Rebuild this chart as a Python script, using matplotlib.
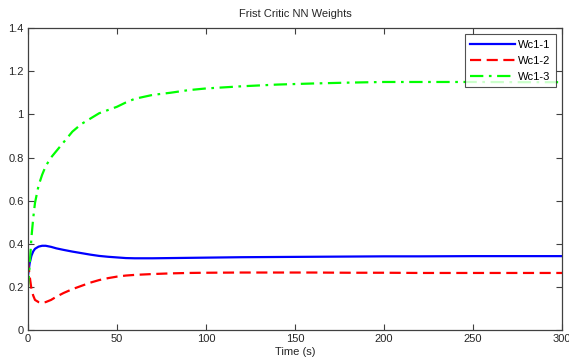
import matplotlib
matplotlib.use("Agg")
import matplotlib.pyplot as plt

t = [0, 1, 2, 3, 4, 6, 8, 10, 13, 16, 20, 25, 30, 35, 40, 45, 50, 55, 60, 70, 80, 90,
     100, 120, 140, 160, 180, 200, 220, 250, 280, 300]
wc1_1 = [0.25, 0.31, 0.345, 0.365, 0.377, 0.387, 0.391, 0.391, 0.386, 0.379, 0.372, 0.364,
         0.357, 0.350, 0.344, 0.340, 0.337, 0.334, 0.333, 0.333, 0.334, 0.335, 0.336, 0.338,
         0.339, 0.340, 0.341, 0.342, 0.342, 0.343, 0.343, 0.343]
wc1_2 = [0.32, 0.25, 0.19, 0.16, 0.14, 0.13, 0.127, 0.13, 0.14, 0.155, 0.172, 0.19, 0.205,
         0.22, 0.232, 0.241, 0.248, 0.253, 0.256, 0.260, 0.263, 0.265, 0.266, 0.267, 0.267,
         0.267, 0.266, 0.266, 0.265, 0.265, 0.265, 0.265]
wc1_3 = [0.19, 0.30, 0.43, 0.52, 0.59, 0.67, 0.72, 0.76, 0.80, 0.83, 0.87, 0.92, 0.955, 0.98,
         1.005, 1.02, 1.035, 1.055, 1.072, 1.09, 1.10, 1.112, 1.12, 1.13, 1.138, 1.143, 1.147,
         1.150, 1.150, 1.150, 1.149, 1.149]
labels = ["Wc1-1", "Wc1-2", "Wc1-3"]
xticks = [0, 50, 100, 150, 200, 250, 300]
yticks = [0, 0.2, 0.4, 0.6, 0.8, 1.0, 1.2, 1.4]
ytick_labels = ["0", "0.2", "0.4", "0.6", "0.8", "1", "1.2", "1.4"]

plt.rcParams['font.family'] = ['Liberation Sans', 'DejaVu Sans']
fig = plt.figure(figsize=(5.69, 3.64), dpi=100)
ax = fig.add_axes([0.049, 0.093, 0.939, 0.830])

ax.plot(t, wc1_1, color='#0000ff', lw=1.6, ls='-', label=labels[0])
ax.plot(t, wc1_2, color='#ff0000', lw=1.6, ls=(0, (5, 2.5)), label=labels[1])
ax.plot(t, wc1_3, color='#00ff00', lw=1.6, ls=(0, (6, 2.5, 1.2, 2.5)), label=labels[2])

ax.set_xlim(0, 300)
ax.set_ylim(0, 1.4)
ax.set_xticks(xticks)
ax.set_xticklabels([str(v) for v in xticks])
ax.set_yticks(yticks)
ax.set_yticklabels(ytick_labels)
ax.tick_params(direction='in', top=True, right=True, length=4, width=0.8,
               labelsize=8, colors='#404040', labelcolor='#262626', pad=3)
for s in ax.spines.values():
    s.set_color('#404040')
    s.set_linewidth(0.9)

ax.set_title("Frist Critic NN Weights", fontsize=8, color='#262626', pad=8)
ax.set_xlabel("Time (s)", fontsize=8, color='#262626', labelpad=2)

leg = ax.legend(loc='upper right', fontsize=8, frameon=True, fancybox=False,
                edgecolor='#262626', borderaxespad=0.55, handlelength=4.0,
                labelspacing=0.55, borderpad=0.5, handletextpad=0.3)
leg.get_frame().set_linewidth(0.8)

fig.savefig("out.png", dpi=100)
